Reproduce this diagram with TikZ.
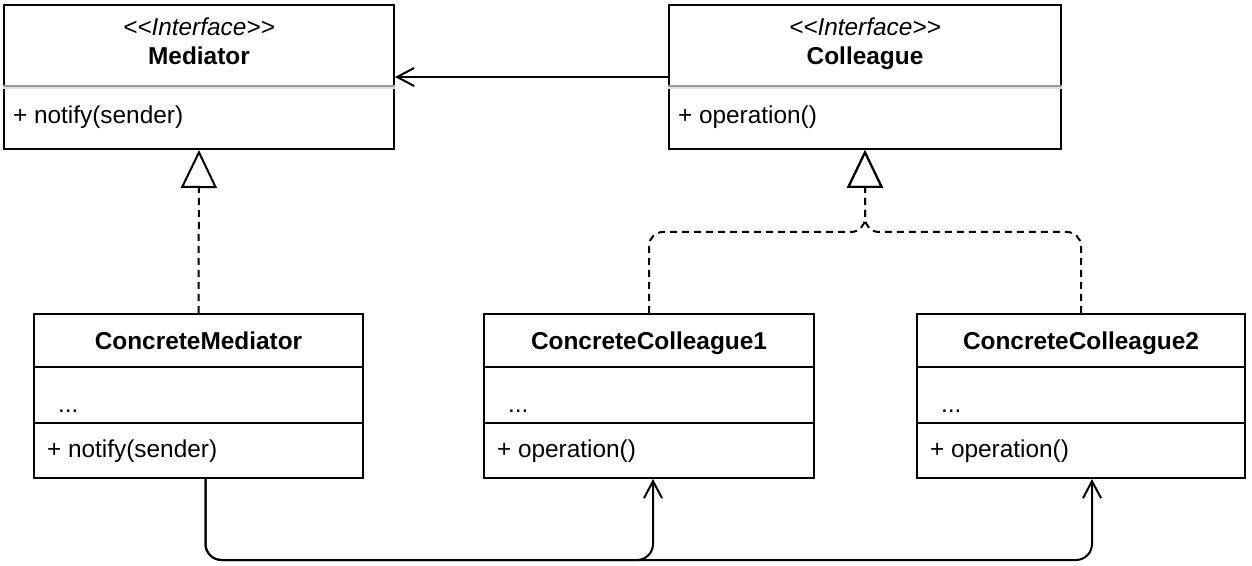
\documentclass[tikz,border=0pt]{standalone}
\usepackage{fontspec}
\setmainfont{Liberation Sans}
\usetikzlibrary{arrows.meta}
\begin{document}
\begin{tikzpicture}[x=0.5pt,y=-0.5pt,line width=1pt,
  box/.style={draw=black,line width=1pt,inner sep=0pt,fill=white},
  txt/.style={inner sep=0pt,anchor=base,font=\fontsize{12.2}{14}\selectfont},
  optxt/.style={txt,anchor=base west},
  divA/.style={draw=black!40,line width=1pt},
  divB/.style={draw=black!12,line width=1pt},
  assoc/.style={-{Straight Barb[length=8.5pt,width=9pt]}},
  impl/.style={dash pattern=on 3.5pt off 2.5pt,-{Triangle[open,length=19pt,width=18pt]}}]
\useasboundingbox (0,0) rectangle (1252,566);
% boxes
\node[box,minimum width=195pt,minimum height=72pt] (med) at (199,77) {};
\node[box,minimum width=196pt,minimum height=72pt] (col) at (865,77) {};
\node[box,minimum width=164.5pt,minimum height=82pt] (cm) at (198.5,396) {};
\node[box,minimum width=165pt,minimum height=82pt] (cc1) at (649,396) {};
\node[box,minimum width=164pt,minimum height=82pt] (cc2) at (1081,396) {};
% dividers
\foreach \n in {med,col}{
  \draw[divA] (\n.west |- 0,86.5) -- (\n.east |- 0,86.5);
  \draw[divB] (\n.west |- 0,88.5) -- (\n.east |- 0,88.5);
}
\foreach \n in {cm,cc1,cc2}{
  \draw (\n.west |- 0,367) -- (\n.east |- 0,367);
  \draw (\n.west |- 0,423) -- (\n.east |- 0,423);
}
% texts
\node[txt] (medst) at (199,36) {\itshape <\kern0pt<Interface>\kern0pt>};
\node[txt] (medn) at (199,65) {\bfseries Mediator};
\node[optxt] (medop) at (12,124) {+ notify(sender)};
\node[txt] (colst) at (865,36) {\itshape <\kern0pt<Interface>\kern0pt>};
\node[txt] (coln) at (865,65) {\bfseries Colleague};
\node[optxt] (colop) at (677,124) {+ operation()};
\node[txt] (cmn) at (198.5,350) {\bfseries ConcreteMediator};
\node[optxt] (cmd) at (57,412) {...};
\node[optxt] (cmop) at (46,457) {+ notify(sender)};
\node[txt] (cc1n) at (649,350) {\bfseries ConcreteColleague1};
\node[optxt] (cc1d) at (507,412) {...};
\node[optxt] (cc1op) at (496,457) {+ operation()};
\node[txt] (cc2n) at (1081,350) {\bfseries ConcreteColleague2};
\node[optxt] (cc2d) at (940,412) {...};
\node[optxt] (cc2op) at (929,457) {+ operation()};
% connectors
\draw[assoc] (col.west) -- (med.east);
\draw[impl] (cm.north) -- (med.south);
\coordinate (jc) at (865,232);
\draw[impl,rounded corners=7pt] (cc1.north) |- (jc) -- (col.south);
\draw[impl,rounded corners=7pt] (cc2.north) |- (jc) -- (col.south);
\coordinate (s) at ([xshift=3.5pt]cm.south);
\coordinate (e1) at ([xshift=2pt]cc1.south);
\coordinate (e2) at ([xshift=5.5pt]cc2.south);
\coordinate (bot) at (0,560);
\draw[assoc,rounded corners=8pt] (s) |- (bot -| e1) -- (e1);
\draw[assoc,rounded corners=8pt] (s) |- (bot -| e2) -- (e2);
\end{tikzpicture}
\end{document}
